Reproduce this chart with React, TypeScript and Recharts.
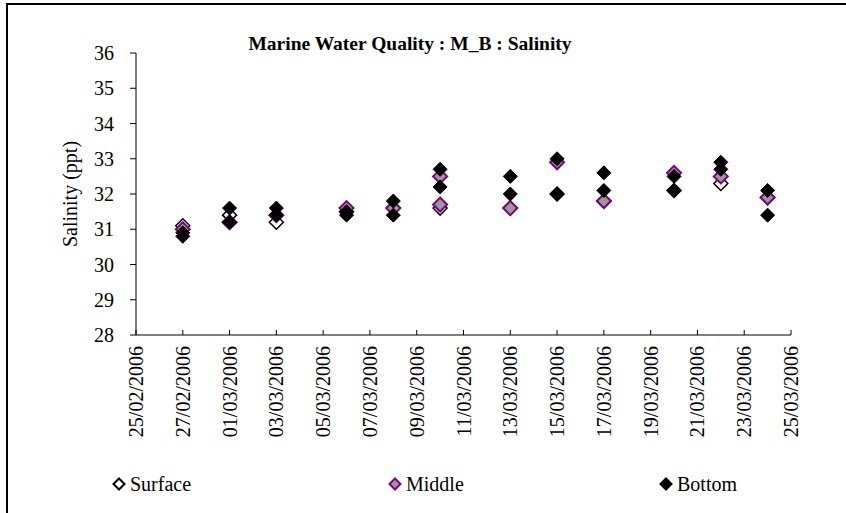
import React from 'react';
import { ScatterChart, Scatter, XAxis, YAxis } from 'recharts';

// sampling dates (UTC) and salinity readings
const surfaceDates = ['2006-02-27', '2006-03-01', '2006-03-01', '2006-03-03', '2006-03-06', '2006-03-08', '2006-03-10', '2006-03-13', '2006-03-15', '2006-03-17', '2006-03-20', '2006-03-22', '2006-03-24'];
const surfaceValues = [31.1, 31.4, 31.2, 31.2, 31.5, 31.6, 31.6, 31.6, 32.0, 31.8, 32.1, 32.3, 31.9];

const middleDates = ['2006-02-27', '2006-03-01', '2006-03-03', '2006-03-06', '2006-03-08', '2006-03-10', '2006-03-10', '2006-03-13', '2006-03-15', '2006-03-17', '2006-03-20', '2006-03-22', '2006-03-24'];
const middleValues = [31.0, 31.2, 31.4, 31.6, 31.6, 32.5, 31.7, 31.6, 32.9, 31.8, 32.6, 32.5, 31.9];

const bottomDates = ['2006-02-27', '2006-02-27', '2006-03-01', '2006-03-01', '2006-03-03', '2006-03-03', '2006-03-06', '2006-03-06', '2006-03-08', '2006-03-08', '2006-03-10', '2006-03-10', '2006-03-13', '2006-03-13', '2006-03-15', '2006-03-15', '2006-03-17', '2006-03-17', '2006-03-20', '2006-03-20', '2006-03-22', '2006-03-22', '2006-03-24', '2006-03-24'];
const bottomValues = [30.9, 30.8, 31.6, 31.2, 31.6, 31.4, 31.5, 31.4, 31.8, 31.4, 32.7, 32.2, 32.5, 32.0, 33.0, 32.0, 32.6, 32.1, 32.5, 32.1, 32.9, 32.7, 32.1, 31.4];

const xTickDates = ['2006-02-25', '2006-02-27', '2006-03-01', '2006-03-03', '2006-03-05', '2006-03-07', '2006-03-09', '2006-03-11', '2006-03-13', '2006-03-15', '2006-03-17', '2006-03-19', '2006-03-21', '2006-03-23', '2006-03-25'];
const yTicks = [28, 29, 30, 31, 32, 33, 34, 35, 36];

const toTime = (s: string) => Date.parse(s + 'T00:00:00Z');

const build = (dates: string[], values: number[]) =>
    dates.map((d, i) => ({ x: toTime(d), y: values[i] }));

const surfaceData = build(surfaceDates, surfaceValues);
const middleData = build(middleDates, middleValues);
const bottomData = build(bottomDates, bottomValues);
const xTicks = xTickDates.map(toTime);

const FONT = 'Liberation Serif';
const AXIS_Y = 335;

const fmtDate = (t: number) => {
    const d = new Date(t);
    const dd = String(d.getUTCDate()).padStart(2, '0');
    const mm = String(d.getUTCMonth() + 1).padStart(2, '0');
    return `${dd}/${mm}/${d.getUTCFullYear()}`;
};

const makeDiamond = (fill: string, stroke: string, sw: number) => (props: any) => {
    const { cx, cy } = props;
    const r = 7;
    return (
        <polygon
            points={`${cx},${cy - r} ${cx + r},${cy} ${cx},${cy + r} ${cx - r},${cy}`}
            fill={fill}
            stroke={stroke}
            strokeWidth={sw}
        />
    );
};

// rotated date label, anchored just under the axis line
const DateTick = (props: any) => {
    const { x, payload } = props;
    const ty = AXIS_Y + 11;
    return (
        <text
            x={x}
            y={ty}
            transform={`rotate(-90, ${x}, ${ty})`}
            textAnchor="end"
            dominantBaseline="central"
            fontFamily={FONT}
            fontSize={20}
            fill="#000"
        >
            {fmtDate(payload.value)}
        </text>
    );
};

const LegendItem = ({ left, label, fill, stroke }: { left: number; label: string; fill: string; stroke: string }) => (
    <div style={{ position: 'absolute', left, top: 472, display: 'flex', alignItems: 'center', fontFamily: FONT, fontSize: 20, lineHeight: '24px' }}>
        <svg width={14} height={14} style={{ marginRight: 4 }}>
            <polygon points="7,1.5 12.5,7 7,12.5 1.5,7" fill={fill} stroke={stroke} strokeWidth={2} />
        </svg>
        {label}
    </div>
);

export default function App() {
    return (
        <div style={{ position: 'absolute', left: 0, top: 0, width: 846, height: 513, background: '#fff', overflow: 'hidden', fontFamily: FONT }}>
            {/* chart-area frame: only top and left edges fall inside the picture */}
            <svg width={846} height={513} style={{ position: 'absolute', left: 0, top: 0 }}>
                <path d="M7 513 L7 4 L846 4" fill="none" stroke="#000" strokeWidth={2} />
            </svg>
            <div style={{ position: 'absolute', left: 0, width: 820, top: 33, textAlign: 'center', fontFamily: FONT, fontWeight: 'bold', fontSize: 19.5 }}>
                Marine Water Quality : M_B : Salinity
            </div>
            <div style={{ position: 'absolute', left: 0, top: 0 }}>
                <ScatterChart width={846} height={513} margin={{ top: 53, right: 55, bottom: 68, left: 76 }}>
                    <XAxis
                        type="number"
                        dataKey="x"
                        domain={[xTicks[0], xTicks[xTicks.length - 1]]}
                        ticks={xTicks}
                        interval={0}
                        tick={<DateTick />}
                        tickSize={-5}
                        tickLine={{ stroke: '#000' }}
                        axisLine={{ stroke: '#000' }}
                        height={110}
                        allowDataOverflow
                    />
                    <YAxis
                        type="number"
                        dataKey="y"
                        domain={[28, 36]}
                        ticks={yTicks}
                        interval={0}
                        width={60}
                        tickSize={6}
                        tickMargin={16}
                        tickLine={{ stroke: '#000' }}
                        axisLine={{ stroke: '#000' }}
                        tick={{ fill: '#000', fontFamily: FONT, fontSize: 20 }}
                        label={{ value: 'Salinity (ppt)', angle: -90, position: 'insideLeft', offset: -6, style: { fontFamily: FONT, fontSize: 20, fill: '#000', textAnchor: 'middle' } }}
                    />
                    <Scatter name="Surface" data={surfaceData} shape={makeDiamond('#fff', '#000', 1.5)} isAnimationActive={false} />
                    <Scatter name="Middle" data={middleData} shape={makeDiamond('#999999', '#800080', 2)} isAnimationActive={false} />
                    <Scatter name="Bottom" data={bottomData} shape={makeDiamond('#000', '#000', 1)} isAnimationActive={false} />
                </ScatterChart>
            </div>
            <LegendItem left={112} label="Surface" fill="#fff" stroke="#000" />
            <LegendItem left={388} label="Middle" fill="#999999" stroke="#800080" />
            <LegendItem left={659} label="Bottom" fill="#000" stroke="#000" />
        </div>
    );
}
